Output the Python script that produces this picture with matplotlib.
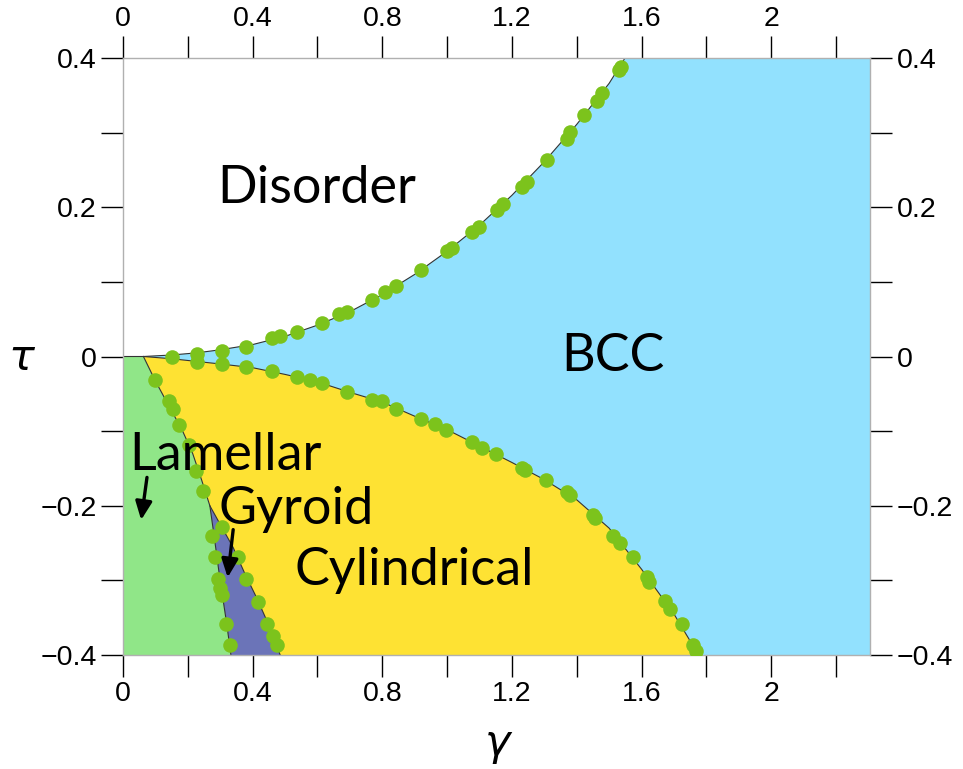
import numpy as np
import matplotlib
matplotlib.use("Agg")
import matplotlib.pyplot as plt
from matplotlib.patches import Polygon
from matplotlib.ticker import FixedLocator, FixedFormatter

## phase boundaries (gamma, tau)
# disorder / BCC
db_g = [0.0, 0.063, 0.15, 0.23, 0.30, 0.40, 0.50, 0.60, 0.70, 0.80, 0.90,
        1.00, 1.10, 1.20, 1.30, 1.40, 1.50, 1.549]
db_t = [0.0, 0.0, 0.002, 0.005, 0.009, 0.016, 0.027, 0.042, 0.060, 0.083,
        0.110, 0.141, 0.176, 0.216, 0.261, 0.311, 0.366, 0.400]
# cylindrical / BCC
cb_g = [0.063, 0.15, 0.30, 0.40, 0.50, 0.60, 0.70, 0.80, 0.90, 1.00, 1.10,
        1.20, 1.30, 1.40, 1.50, 1.60, 1.70, 1.776]
cb_t = [0.0, -0.003, -0.010, -0.015, -0.024, -0.034, -0.048, -0.061, -0.080,
        -0.098, -0.120, -0.142, -0.165, -0.192, -0.230, -0.285, -0.345, -0.400]
# lamellar / cylindrical, then lamellar / gyroid
lam_g = [0.063, 0.099, 0.140, 0.183, 0.215, 0.243, 0.268, 0.281, 0.299,
         0.320, 0.333]
lam_t = [0.0, -0.032, -0.065, -0.099, -0.130, -0.166, -0.200, -0.240,
         -0.298, -0.358, -0.400]
# gyroid / cylindrical
gc_g = [0.268, 0.300, 0.340, 0.375, 0.412, 0.450, 0.485]
gc_t = [-0.200, -0.225, -0.256, -0.290, -0.323, -0.360, -0.400]

## simulation points
pts_db = [(0.150, 0.000), (0.227, 0.004), (0.305, 0.008), (0.380, 0.013),
          (0.459, 0.025), (0.485, 0.027), (0.536, 0.033), (0.613, 0.045),
          (0.665, 0.057), (0.690, 0.060), (0.768, 0.076), (0.809, 0.086),
          (0.843, 0.095), (0.919, 0.116), (0.999, 0.142), (1.014, 0.146),
          (1.076, 0.167), (1.097, 0.174), (1.153, 0.196), (1.172, 0.205),
          (1.230, 0.227), (1.246, 0.234), (1.307, 0.263), (1.369, 0.292),
          (1.380, 0.301), (1.424, 0.323), (1.462, 0.343), (1.477, 0.353),
          (1.529, 0.384), (1.536, 0.388)]
pts_cb = [(0.227, -0.008), (0.305, -0.010), (0.380, -0.014), (0.459, -0.020),
          (0.536, -0.028), (0.577, -0.032), (0.613, -0.036), (0.690, -0.047),
          (0.768, -0.058), (0.798, -0.060), (0.843, -0.070), (0.920, -0.084),
          (0.963, -0.090), (0.997, -0.099), (1.076, -0.115), (1.107, -0.122),
          (1.151, -0.130), (1.230, -0.149), (1.240, -0.152), (1.306, -0.166),
          (1.369, -0.182), (1.378, -0.186), (1.451, -0.213), (1.457, -0.217),
          (1.513, -0.240), (1.534, -0.250), (1.573, -0.269), (1.616, -0.296),
          (1.624, -0.302), (1.673, -0.327), (1.688, -0.339), (1.724, -0.358),
          (1.758, -0.387), (1.768, -0.395)]
pts_lam = [(0.099, -0.032), (0.142, -0.059), (0.153, -0.071), (0.174, -0.092),
           (0.204, -0.118), (0.225, -0.153), (0.248, -0.180), (0.274, -0.240),
           (0.284, -0.269), (0.294, -0.298), (0.300, -0.310), (0.307, -0.320),
           (0.318, -0.358), (0.330, -0.387)]
pts_gc = [(0.304, -0.228), (0.356, -0.269), (0.381, -0.298), (0.418, -0.329),
          (0.443, -0.358), (0.464, -0.374), (0.474, -0.387)]

gmin, gmax = 0.0, 2.305
tmin, tmax = -0.4, 0.4

xtick_pos = np.arange(0, 2.21, 0.2)
xtick_lab = ["0", "", "0.4", "", "0.8", "", "1.2", "", "1.6", "", "2", ""]
ytick_pos = np.arange(-0.4, 0.41, 0.1)
ytick_lab = ["\u22120.4", "", "\u22120.2", "", "0", "", "0.2", "", "0.4"]

c_bcc = "#92e1fe"
c_cyl = "#fee233"
c_lam = "#90e688"
c_gyr = "#6b74b8"
c_dot = "#7cc31c"

fig = plt.figure(figsize=(9.63, 7.69), dpi=100)
ax = fig.add_axes([123 / 963, 114 / 769, 747 / 963, 597 / 769])
ax.set_xlim(gmin, gmax)
ax.set_ylim(tmin, tmax)

# filled regions
bcc = list(zip(db_g, db_t)) + [(gmax, tmax), (gmax, tmin)] + list(zip(cb_g, cb_t))[::-1]
cyl = list(zip(cb_g, cb_t)) + list(zip(gc_g, gc_t))[::-1] + \
      [p for p in zip(lam_g, lam_t) if p[1] >= -0.2][::-1]
lam = [(0.0, 0.0)] + list(zip(lam_g, lam_t)) + [(0.0, tmin)]
gyr = [p for p in zip(lam_g, lam_t) if p[1] <= -0.2] + list(zip(gc_g, gc_t))[::-1]
for poly, col in [(bcc, c_bcc), (cyl, c_cyl), (lam, c_lam), (gyr, c_gyr)]:
    ax.add_patch(Polygon(poly, closed=True, facecolor=col, edgecolor="none", zorder=1))

for g, t in [(db_g, db_t), (cb_g, cb_t), (lam_g, lam_t), (gc_g, gc_t)]:
    ax.plot(g, t, color="#333333", lw=0.8, zorder=2)

for pts in [pts_db, pts_cb, pts_lam, pts_gc]:
    arr = np.array(pts)
    ax.plot(arr[:, 0], arr[:, 1], "o", ms=10.5, color=c_dot, mec="none", zorder=3)

# phase names
lab_font = dict(family="Lato", fontsize=37.5, color="black", zorder=4)
ax.text(0.599, 0.225, "Disorder", ha="center", va="center", **lab_font)
ax.text(1.512, 0.0, "BCC", ha="center", va="center", **lab_font)
ax.text(0.315, -0.133, "Lamellar", ha="center", va="center", **lab_font)
ax.text(0.534, -0.205, "Gyroid", ha="center", va="center", **lab_font)
ax.text(0.898, -0.287, "Cylindrical", ha="center", va="center", **lab_font)
arrow = dict(arrowstyle="-|>,head_length=1.1,head_width=0.5", color="black",
             lw=2.4, shrinkA=0, shrinkB=0)
ax.annotate("", xy=(0.056, -0.219), xytext=(0.074, -0.162), arrowprops=arrow, zorder=5)
ax.annotate("", xy=(0.323, -0.296), xytext=(0.340, -0.232), arrowprops=arrow, zorder=5)

# axes frame and ticks on all four sides
for s in ax.spines.values():
    s.set_color("#b0b0b0")
    s.set_linewidth(1.0)
ax.xaxis.set_major_locator(FixedLocator(xtick_pos))
ax.xaxis.set_major_formatter(FixedFormatter(xtick_lab))
ax.yaxis.set_major_locator(FixedLocator(ytick_pos))
ax.yaxis.set_major_formatter(FixedFormatter(ytick_lab))
ax.tick_params(which="major", direction="out", length=16, width=1.0, color="black",
               labelsize=20.5, pad=3, top=True, right=True,
               labeltop=True, labelright=True)
for lab in ax.get_xticklabels() + ax.get_yticklabels():
    lab.set_family("Liberation Sans")

ax.set_xlabel("\u03b3", fontsize=31, style="italic", va="baseline")
ax.xaxis.set_label_coords(0.502, -0.1675)
ax.set_ylabel("\u03c4", fontsize=31, style="italic", rotation=0, va="center", ha="center")
ax.yaxis.set_label_coords(-0.136, 0.497)

fig.savefig("out.png", dpi=100)
